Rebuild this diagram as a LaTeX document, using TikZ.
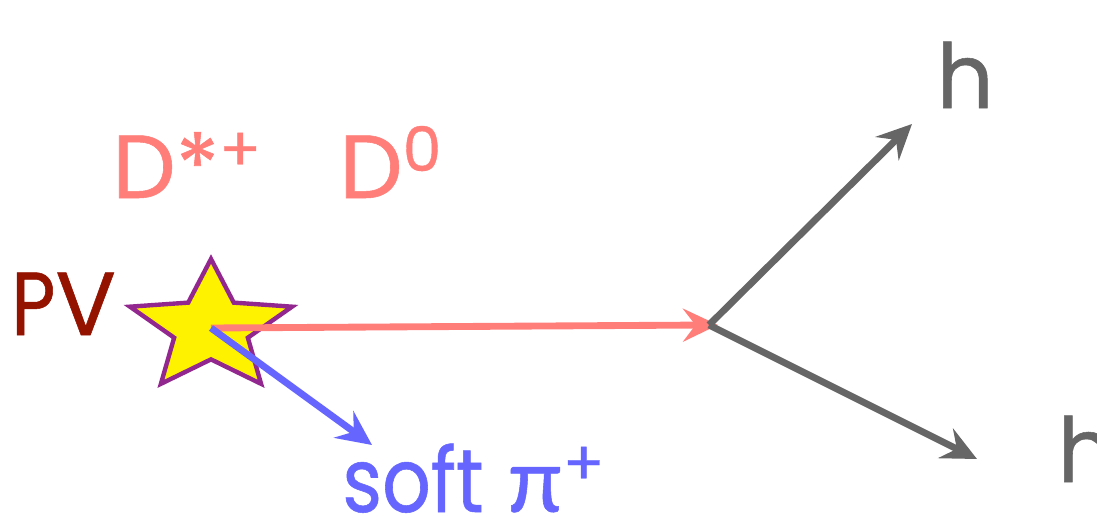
\documentclass[tikz,border=0pt]{standalone}
\usepackage{fontspec}
\setmainfont{Poppins}[FakeBold=0.6]
\newfontfamily\narrowfont{Poppins}[FakeBold=0.6, FakeStretch=0.85]
\newfontfamily\greekfont{Lato}[FakeBold=0.6]
\usetikzlibrary{arrows.meta, shapes.geometric}
\definecolor{salmon}{RGB}{255,126,121}
\definecolor{pvred}{RGB}{148,18,0}
\definecolor{trackgray}{RGB}{102,102,102}
\definecolor{pionblue}{RGB}{102,102,255}
\definecolor{starpurple}{RGB}{146,39,143}
\newcommand{\supsc}[1]{\raisebox{0.3em}{\fontsize{35}{35}\selectfont #1}}

\begin{document}
\begin{tikzpicture}[
  lbl/.style={anchor=base west, inner sep=0, font=\fontsize{51}{60}\selectfont},
  trk/.style={line width=3.9pt, -{Stealth[length=0.7cm, width=0.66cm, inset=0.25cm]}}]
  \useasboundingbox (0,0) rectangle (21.94,10.38);
  % primary vertex
  \node[star, star points=5, star point ratio=2.2, minimum size=2.76cm, inner sep=0,
        xscale=1.235, draw=starpurple, fill=yellow, line width=2.5pt] (pv) at (4.22,3.82) {};
  \coordinate (dv) at (14.18,3.88);
  \coordinate (hupend) at (18.24,7.90);
  \coordinate (hdownend) at (19.54,1.20);
  \coordinate (pitip) at (7.44,1.48);
  % D0 flight and decay
  \draw[trk, salmon, shorten >=-0.18cm] (pv.center) -- (dv);
  \draw[trk, trackgray] (dv) -- (hupend);
  \draw[trk, trackgray] (dv) -- (hdownend);
  % slow pion
  \draw[trk, pionblue] (pv.center) -- (pitip);
  % labels
  \node[lbl, pvred] (pvlabel) at (0.22,3.68) {{\narrowfont P}V};
  \node[lbl, salmon] (dstar) at (2.24,6.42) {D*\supsc{+}};
  \node[lbl, salmon] (dzero) at (6.78,6.42) {D\supsc{0}};
  \node[lbl, pionblue] (softpi) at (6.84,0.14) {{\narrowfont soft} {\greekfont π}\supsc{+}};
  \node[lbl, trackgray] (hup) at (18.72,8.22) {h};
  \node[lbl, trackgray] (hdown) at (21.14,0.74) {h};
\end{tikzpicture}
\end{document}
